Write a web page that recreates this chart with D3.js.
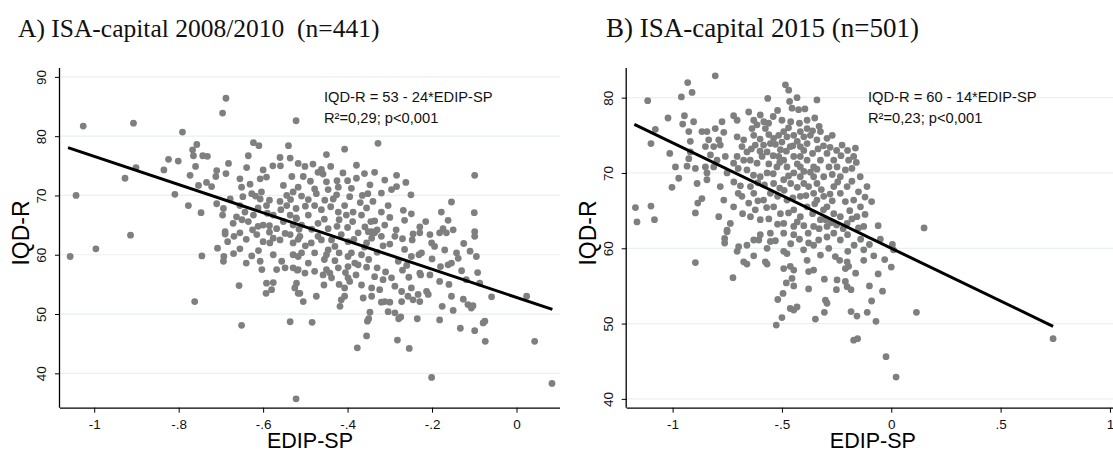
<!DOCTYPE html>
<html>
<head>
<meta charset="utf-8">
<script src="https://cdn.jsdelivr.net/npm/d3@7"></script>
<style>
  body { margin: 0; background: #fff; }
  text { font-family: "Liberation Sans", Arial, sans-serif; }
</style>
</head>
<body>
<svg id="chart" width="1113" height="452"></svg>
<script>
// ---- data ----
const pointsA = [
  [-1.026,81.7],[-0.907,82.2],[-0.688,86.4],[-0.696,83.9],[-0.522,82.6],[-0.791,80.7],[-1.043,70.0],[-0.927,72.9],[-0.901,74.7],[-0.809,70.2],
  [-0.777,68.3],[-0.747,67.1],[-0.757,78.6],[-0.767,77.7],[-0.765,76.7],[-0.743,76.7],[-0.732,76.6],[-0.623,78.9],[-0.610,78.4],[-0.635,76.7],
  [-0.540,78.4],[-0.824,76.1],[-0.801,75.8],[-0.835,74.3],[-0.760,74.9],[-0.773,73.4],[-0.710,74.2],[-0.712,73.2],[-0.688,73.7],[-0.682,75.4],
  [-0.639,74.7],[-0.600,74.3],[-0.577,75.0],[-0.559,75.0],[-0.560,76.4],[-0.536,76.3],[-0.734,72.2],[-0.753,71.7],[-0.722,71.5],[-0.655,72.8],
  [-0.651,71.4],[-0.631,71.9],[-0.607,72.8],[-0.592,73.1],[-0.627,70.3],[-0.604,70.6],[-0.532,73.2],[-0.552,71.7],[-0.529,70.6],[-0.710,68.6],
  [-0.694,67.8],[-0.678,69.4],[-0.655,68.3],[-0.643,67.2],[-0.623,66.7],[-0.663,66.4],[-0.635,65.6],[-0.600,65.0],[-0.576,66.7],[-0.592,68.3],
  [-0.544,68.3],[-0.536,66.7],[-0.568,64.4],[-0.529,65.0],[-0.690,63.9],[-0.607,69.4],[-0.544,70.0],[-0.671,65.3],[-0.696,66.7],
  [-1.057,59.7],[-0.996,61.0],[-0.914,63.3],[-0.745,59.8],[-0.708,61.1],[-0.690,63.5],[-0.669,63.1],[-0.684,62.2],[-0.693,59.7],[-0.694,58.9],
  [-0.657,54.8],[-0.762,52.1],[-0.651,48.1],[-0.522,35.7],[-0.536,48.7],[-0.615,63.4],[-0.600,62.2],[-0.584,62.0],[-0.576,62.8],[-0.560,62.5],
  [-0.536,63.4],[-0.529,62.0],[-0.517,62.6],[-0.611,60.7],[-0.627,59.8],[-0.607,58.9],[-0.603,57.5],[-0.576,60.0],[-0.556,58.9],[-0.568,57.5],
  [-0.548,57.8],[-0.529,60.0],[-0.529,57.8],[-0.519,57.4],[-0.592,55.2],[-0.576,55.3],[-0.580,54.1],[-0.593,53.5],[-0.525,54.4],[-0.517,53.5],
  [-0.328,78.8],[-0.407,77.8],[-0.450,76.9],[-0.099,73.4],[-0.517,75.4],[-0.501,74.9],[-0.482,75.3],[-0.462,74.4],[-0.458,73.6],[-0.379,75.1],
  [-0.411,73.8],[-0.379,72.9],[-0.336,73.9],[-0.284,73.4],[-0.347,71.8],[-0.391,71.2],[-0.296,71.0],[-0.284,71.5],[-0.450,72.3],[-0.446,71.0],
  [-0.422,71.4],[-0.426,70.1],[-0.517,71.4],[-0.509,69.9],[-0.493,69.3],[-0.478,68.3],[-0.454,69.2],[-0.434,69.4],[-0.340,69.0],[-0.304,68.3],
  [-0.268,67.5],[-0.249,66.9],[-0.178,67.2],[-0.154,68.9],[-0.162,65.8],[-0.100,67.1],[-0.336,65.7],[-0.387,67.2],[-0.407,68.3],[-0.403,66.7],
  [-0.367,66.7],[-0.422,67.2],[-0.229,64.7],[-0.174,64.4],[-0.150,64.2],[-0.099,63.9],[-0.521,66.1],[-0.493,66.7],[-0.470,65.3],[-0.446,64.4],
  [-0.509,65.0],[-0.359,64.7],[-0.312,65.0],[-0.478,71.1],[-0.474,70.3],[-0.343,63.9],
  [-0.201,39.3],[0.043,45.4],[0.084,38.3],[-0.484,48.6],[-0.377,44.3],[-0.355,46.3],[-0.353,48.8],[-0.350,49.2],[-0.347,50.3],[-0.282,45.6],[-0.254,44.2],
  [-0.279,49.2],[-0.274,49.5],[-0.235,49.2],[-0.182,49.0],[-0.133,47.6],[-0.099,47.2],[-0.075,48.8],[-0.079,48.5],[-0.074,45.4],[-0.176,51.3],
  [-0.150,50.6],[-0.154,53.0],[-0.126,52.5],[-0.115,51.6],[-0.107,51.0],[-0.103,51.4],[-0.059,52.9],[0.024,53.0],[-0.087,55.2],[-0.092,57.0],
  [-0.095,59.7],[-0.099,63.1],[-0.119,55.8],[-0.142,60.3],[-0.138,59.4],[-0.154,58.6],[-0.162,58.3],[-0.182,55.5],[-0.213,53.8],[-0.209,53.3],
  [-0.229,56.9],[-0.227,56.6],[-0.231,60.0],[-0.225,60.3],[-0.249,59.7],[-0.247,62.5],[-0.229,63.7],[-0.201,62.0],[-0.194,61.4],[-0.182,63.7],
  [-0.166,63.7],[-0.280,58.9],[-0.288,63.1],[-0.316,61.5],[-0.336,63.7],[-0.320,63.1],[-0.343,62.8],[-0.355,62.0],
  [-0.249,54.4],[-0.245,52.4],[-0.257,53.0],[-0.233,53.3],[-0.229,52.1],[-0.272,53.8],[-0.272,52.1],[-0.288,54.7],[-0.296,56.1],[-0.316,55.8],
  [-0.324,54.1],[-0.336,56.3],[-0.343,54.4],[-0.343,53.0],[-0.363,52.7],[-0.367,54.9],[-0.312,52.1],[-0.300,52.0],[-0.320,52.0],[-0.304,50.4],
  [-0.288,50.2],[-0.418,51.3],[-0.474,53.0],[-0.505,52.1],[-0.513,53.5],[-0.456,54.9],[-0.442,56.9],[-0.450,57.5],[-0.458,56.6],[-0.438,56.1],
  [-0.407,54.4],[-0.395,55.5],[-0.399,56.1],[-0.407,53.0],[-0.415,52.4],[-0.422,57.8],[-0.399,58.0],[-0.383,58.6],[-0.399,59.7],[-0.367,60.0],
  [-0.375,58.3],[-0.446,60.8],[-0.430,61.4],[-0.450,60.0],[-0.438,62.5],[-0.462,62.5],[-0.486,62.0],[-0.478,60.3],[-0.509,60.3],[-0.493,58.6],
  [-0.517,57.5],[-0.501,56.9],[-0.478,57.2],[-0.517,59.7],[-0.521,55.2],[-0.513,63.1],[-0.470,63.1],[-0.415,63.4],[-0.375,63.7],[-0.351,63.9],
  [-0.399,62.2],[-0.391,60.3],
  [-0.648,69.8],[-0.618,69.9],[-0.585,69.2],[-0.560,69.0],[-0.535,69.3],[-0.522,67.8],[-0.558,67.6],[-0.590,67.0],[-0.612,67.9],[-0.650,65.9],
  [-0.612,64.8],[-0.585,64.9],[-0.552,65.6],[-0.522,66.2],[-0.515,64.3],[-0.548,63.6],[-0.585,63.8],[-0.625,64.2],[-0.655,63.7],[-0.640,62.6],
  [-0.500,68.2],[-0.462,67.6],[-0.440,68.1],[-0.420,65.9],[-0.388,65.6],[-0.370,68.8],[-0.355,67.9],[-0.320,67.2],[-0.300,66.3],[-0.285,64.2],
  [-0.330,64.2],[-0.385,62.6],[-0.360,61.3],[-0.330,60.4],[-0.300,61.8],[-0.270,62.7],[-0.265,60.9],[-0.420,60.3],[-0.455,59.2],[-0.430,59.0],
  [-0.500,61.5],[-0.455,66.0],[-0.485,64.3],[-0.425,64.8],[-0.400,64.6],[-0.345,65.6],[-0.265,65.8],[-0.245,63.5],[-0.215,65.6],[-0.205,63.4],
  [-0.505,73.2],[-0.488,72.4],[-0.470,73.9],[-0.440,74.9],[-0.425,72.5],[-0.400,72.5],[-0.360,73.7],[-0.352,70.3],[-0.320,70.4],[-0.312,72.6],
  [-0.262,72.2],[-0.250,70.1],[-0.395,69.8],[-0.365,70.0],
  [-0.420,55.0],[-0.380,56.6],[-0.355,57.9],[-0.330,57.8],[-0.310,57.1],[-0.270,57.4],[-0.255,56.2],[-0.260,58.2],[-0.350,59.2],[-0.405,57.0],
  [-0.200,59.3],[-0.180,58.0],[-0.170,60.8],[-0.125,61.9],[-0.130,57.3],[-0.110,60.6],[-0.205,56.6],[-0.160,55.0],
  [-0.655,61.0],[-0.640,58.6],[-0.670,60.2]
];

const pointsB = [
  [-0.805,82.9],[-0.931,82.0],[-0.911,80.7],[-0.960,80.1],[-1.114,79.6],[-0.484,81.7],[-0.469,81.0],[-0.565,79.9],[-0.431,80.0],[-0.340,79.7],
  [-0.465,79.5],[-0.454,78.6],[-0.424,78.4],[-1.021,77.3],[-0.946,77.6],[-0.904,76.8],[-0.954,76.5],[-1.079,75.8],[-1.099,73.9],[-1.013,72.6],
  [-0.987,70.8],[-0.972,69.3],[-1.003,68.1],[-1.170,65.4],[-1.099,65.6],[-1.083,63.8],[-1.163,63.5],[-0.934,70.9],[-0.896,70.6],[-0.926,71.9],
  [-0.919,74.2],[-0.926,75.5],[-0.919,72.8],[-0.888,68.6],[-0.843,69.1],[-0.866,66.6],[-0.885,66.0],[-0.896,64.7],[-0.774,76.8],[-0.721,77.6],
  [-0.705,77.0],[-0.866,75.5],[-0.843,75.5],[-0.805,75.9],[-0.835,74.4],[-0.850,73.5],[-0.812,73.5],[-0.789,74.4],[-0.766,75.4],[-0.782,73.7],
  [-0.827,72.4],[-0.797,71.7],[-0.759,72.2],[-0.850,70.8],[-0.812,70.8],[-0.843,70.0],[-0.652,78.1],[-0.629,77.0],[-0.599,77.7],[-0.614,76.4],
  [-0.583,76.8],[-0.637,75.9],
  [-0.705,74.8],[-0.675,74.4],[-0.683,73.5],[-0.629,75.0],[-0.622,73.7],[-0.584,73.7],[-0.660,72.8],[-0.705,72.2],[-0.721,71.3],[-0.675,71.7],
  [-0.645,71.7],[-0.614,71.3],[-0.591,72.2],[-0.568,72.8],[-0.553,73.9],[-0.538,74.6],[-0.515,75.0],[-0.492,75.5],[-0.477,74.8],[-0.446,75.0],
  [-0.416,75.5],[-0.385,75.9],[-0.370,75.0],[-0.340,74.4],[-0.324,75.5],[-0.294,74.6],[-0.385,73.9],[-0.416,73.5],[-0.462,73.5],[-0.507,73.1],
  [-0.515,72.2],
  [-0.225,73.7],[-0.164,73.3],[-0.172,72.2],[-0.195,71.7],[-0.248,70.8],[-0.142,69.5],[-0.111,68.2],[-0.210,70.4],[-0.233,69.5],[-0.385,77.0],
  [-0.576,75.9],[-0.561,76.6],
  [-0.751,70.0],[-0.782,68.2],[-0.766,66.4],[-0.721,65.5],[-0.683,66.9],[-0.736,63.3],[-0.751,62.4],[-0.789,64.2],
  [-0.644,68.2],[-0.629,67.3],[-0.652,66.0],[-0.622,65.1],[-0.644,64.2],[-0.599,63.8],[-0.584,66.4],[-0.553,67.3],[-0.538,65.5],[-0.507,64.6],
  [-0.477,66.4],[-0.446,65.1],[-0.492,63.3],[-0.446,62.9],[-0.416,64.2],[-0.385,65.5],[-0.416,66.9],[-0.378,68.2],[-0.355,67.3],[-0.309,66.9],
  [-0.294,65.5],[-0.263,64.6],[-0.233,64.2],[-0.202,63.3],[-0.324,63.8],[-0.355,62.9],[-0.294,62.9],[-0.233,67.3],[-0.263,68.2],[-0.202,68.2],
  [-0.172,66.4],[-0.141,65.5],[-0.157,64.2],[-0.126,62.9],[-0.538,68.6],[-0.492,69.1],[-0.446,70.0],[-0.477,70.8],[-0.416,70.8],[-0.385,71.7],
  [-0.355,70.8],[-0.324,71.7],[-0.294,72.6],[-0.263,71.7],[-0.416,69.5],[-0.355,69.5],[-0.309,69.5],[-0.568,70.0],[-0.599,69.5],[-0.523,70.8],
  [-0.492,71.7],[-0.446,72.2],[-0.416,72.2],
  [-0.896,58.1],[-0.724,56.1],[-0.762,61.3],[-0.762,60.7],[-0.705,59.6],[-0.698,60.2],[-0.660,60.4],[-0.629,61.1],[-0.606,61.1],[-0.675,58.2],
  [-0.660,57.9],[-0.629,59.0],[-0.576,58.2],[-0.568,57.9],[-0.568,60.0],[-0.553,60.9],[-0.492,59.6],[-0.477,59.3],[-0.492,57.3],[-0.462,57.6],
  [-0.446,57.1],[-0.454,56.0],[-0.480,55.4],[-0.446,55.0],[-0.495,54.0],[-0.519,53.2],[-0.462,52.0],[-0.446,51.8],[-0.431,52.2],[-0.500,50.8],
  [-0.526,49.8],[-0.378,54.6],[-0.378,56.9],[-0.355,57.1],[-0.385,58.4],[-0.306,55.9],[-0.347,50.6],[-0.301,53.1],[-0.294,52.7],[-0.306,51.5],
  [-0.251,54.5],[-0.248,55.8],[-0.210,55.6],[-0.202,54.9],[-0.184,54.5],[-0.236,58.4],[-0.202,58.2],[-0.195,57.6],[-0.210,57.3],[-0.163,56.7],
  [-0.184,51.6],[-0.157,51.0],[-0.172,47.8],[-0.154,48.0],[-0.256,58.9],[-0.286,60.0],[-0.324,59.1],[-0.126,58.4],[-0.126,59.8],[-0.199,59.6],
  [-0.378,60.7],[-0.355,60.4],[-0.401,59.8],[-0.332,61.1],[-0.294,61.5],[-0.233,61.1],[-0.263,62.0],[-0.446,61.8],[-0.492,62.0],[-0.553,62.0],
  [-0.599,61.8],[-0.751,62.2],
  [-0.024,45.6],[0.022,42.9],[0.150,62.7],[0.740,48.0],[0.115,51.5],
  [-0.540,77.5],[-0.500,77.0],[-0.460,76.8],[-0.420,76.6],[-0.395,78.5],[-0.350,77.3],[-0.330,76.2],[-0.520,78.3],
  [-0.600,74.5],[-0.560,75.1],[-0.530,73.8],[-0.500,74.1],[-0.470,76.0],[-0.430,74.2],[-0.400,74.8],[-0.360,75.6],[-0.310,73.6],[-0.270,75.0],[-0.250,73.0],
  [-0.640,73.2],[-0.600,72.9],[-0.540,72.3],[-0.510,71.4],[-0.480,72.9],[-0.450,73.6],[-0.400,73.0],[-0.360,72.6],[-0.335,73.2],[-0.280,73.4],[-0.230,72.3],[-0.200,73.0],
  [-0.700,70.6],[-0.660,70.4],[-0.630,69.7],[-0.560,71.2],[-0.540,69.9],[-0.470,69.6],[-0.430,71.2],[-0.400,70.2],[-0.370,70.1],[-0.340,70.5],[-0.285,70.8],[-0.270,69.8],[-0.180,70.6],[-0.160,71.4],
  [-0.720,68.8],[-0.690,68.3],[-0.610,68.7],[-0.580,68.4],[-0.510,68.0],[-0.460,68.6],[-0.430,68.1],[-0.400,68.6],[-0.340,68.6],[-0.320,67.8],[-0.280,67.2],[-0.245,68.8],[-0.180,68.9],[-0.150,67.5],
  [-0.700,67.3],[-0.610,66.3],[-0.570,65.4],[-0.520,66.9],[-0.490,67.7],[-0.450,66.7],[-0.390,67.0],[-0.350,65.9],[-0.310,65.1],[-0.270,66.3],[-0.210,66.2],[-0.190,65.0],[-0.120,66.8],
  [-0.680,64.6],[-0.560,63.9],[-0.520,63.2],[-0.470,64.7],[-0.430,63.5],[-0.400,63.0],[-0.360,64.6],[-0.340,66.4],[-0.275,63.4],[-0.220,62.6],[-0.180,63.9],[-0.150,62.7],
  [-0.530,61.0],[-0.460,60.6],[-0.420,61.2],[-0.380,62.0],[-0.330,62.6],[-0.300,63.8],[-0.250,63.1],[-0.200,61.8],[-0.170,60.4],[-0.140,61.2],
  [-0.100,60.5],[-0.080,59.0],[-0.050,61.2],[-0.030,58.5],[-0.060,56.6],[-0.100,55.0],[-0.090,53.0],[-0.040,54.3],[-0.110,51.5],[-0.070,50.3],
  [0.010,59.8],[0.000,57.5],[-0.120,64.5],[-0.090,66.2],[-0.060,63.0],[0.005,60.5]
];

const xTicksA = [-1, -0.8, -0.6, -0.4, -0.2, 0];
const xLabelsA = ["-1", "-.8", "-.6", "-.4", "-.2", "0"];
const yTicksA = [40, 50, 60, 70, 80, 90];
const xTicksB = [-1, -0.5, 0, 0.5, 1];
const xLabelsB = ["-1", "-.5", "0", ".5", "1"];
const yTicksB = [40, 50, 60, 70, 80];

// fitted lines: intercept, slope, x range
const fitA = { a: 52.8, b: -23.8, x0: -1.062, x1: 0.085 };
const fitB = { a: 60, b: -14, x0: -1.175, x1: 0.74 };

const titleA = "A) ISA-capital 2008/2010\u00a0\u00a0(n=441)";
const titleB = "B) ISA-capital 2015 (n=501)";
const eqA = ["IQD-R = 53 - 24*EDIP-SP", "R\u00b2=0,29; p<0,001"];
const eqB = ["IQD-R = 60 - 14*EDIP-SP", "R\u00b2=0,23; p<0,001"];

const svg = d3.select("#chart");

function drawPanel(cfg) {
  const x = d3.scaleLinear().domain(cfg.xDomain).range([cfg.left, cfg.right]);
  const y = d3.scaleLinear().domain(cfg.yDomain).range([cfg.bottom, cfg.top]);
  const g = svg.append("g");

  // grid lines
  g.selectAll("line.grid")
    .data(cfg.yTicks)
    .enter().append("line")
      .attr("x1", cfg.left).attr("x2", cfg.right)
      .attr("y1", d => y(d)).attr("y2", d => y(d))
      .attr("stroke", "#e8f0f1")
      .attr("stroke-width", 1.2);

  // points
  g.selectAll("circle")
    .data(cfg.points)
    .enter().append("circle")
      .attr("cx", d => x(d[0]))
      .attr("cy", d => y(d[1]))
      .attr("r", 3.4)
      .attr("fill", "#7f7f7f");

  // regression line
  g.append("line")
    .attr("x1", x(cfg.fit.x0)).attr("y1", y(cfg.fit.a + cfg.fit.b * cfg.fit.x0))
    .attr("x2", x(cfg.fit.x1)).attr("y2", y(cfg.fit.a + cfg.fit.b * cfg.fit.x1))
    .attr("stroke", "#000")
    .attr("stroke-width", 3);

  // axes
  const xAxis = d3.axisBottom(x)
    .tickValues(cfg.xTicks)
    .tickFormat((d, i) => cfg.xLabels[i])
    .tickSize(5).tickPadding(7);
  const gx = g.append("g")
    .attr("transform", `translate(0,${cfg.bottom})`)
    .call(xAxis);
  gx.select(".domain").attr("d", `M${cfg.left},0.5H${cfg.right}`).attr("stroke-width", 1.3);
  gx.selectAll("text").attr("font-size", 13.5).attr("fill", "#111")
    .style("font-family", "'Liberation Sans', Arial, sans-serif");

  const yAxis = d3.axisLeft(y).tickValues(cfg.yTicks).tickSize(5).tickPadding(4);
  const gy = g.append("g")
    .attr("transform", `translate(${cfg.left},0)`)
    .call(yAxis);
  gy.select(".domain").attr("d", `M-0.5,${cfg.top}V${cfg.bottom}`).attr("stroke-width", 1.3);
  gy.selectAll(".tick text")
    .attr("font-size", 13.5).attr("fill", "#111")
    .attr("x", null).attr("dy", null)
    .attr("text-anchor", "middle")
    .attr("transform", "translate(-14,0) rotate(-90)")
    .style("font-family", "'Liberation Sans', Arial, sans-serif");

  // axis titles
  g.append("text")
    .attr("x", (cfg.left + cfg.right) / 2 + cfg.xTitleShift)
    .attr("y", 448)
    .attr("text-anchor", "middle")
    .attr("font-size", 21.5)
    .text("EDIP-SP");
  g.append("text")
    .attr("transform", `translate(${cfg.left - 31},${cfg.yTitleY}) rotate(-90)`)
    .attr("text-anchor", "middle")
    .attr("font-size", 23)
    .text("IQD-R");

  // equation
  cfg.eq.forEach((t, i) => {
    g.append("text")
      .attr("x", cfg.eqX)
      .attr("y", cfg.eqY + i * 21.5)
      .attr("font-size", 14.7)
      .attr("fill", "#111")
      .text(t);
  });

  // panel title
  svg.append("text")
    .attr("x", cfg.titleX)
    .attr("y", 37)
    .style("font-family", "'Liberation Serif', 'Times New Roman', serif")
    .attr("font-size", cfg.titleSize)
    .attr("fill", "#111")
    .text(cfg.title);
}

drawPanel({
  points: pointsA, fit: fitA, xTicks: xTicksA, xLabels: xLabelsA, yTicks: yTicksA,
  xDomain: [-1.081, 0.103], yDomain: [34.2, 91.5],
  left: 60, right: 560, top: 68, bottom: 407.7,
  xTitleShift: 0, yTitleY: 233,
  eq: eqA, eqX: 324, eqY: 101.7,
  title: titleA, titleX: 18, titleSize: 25.5
});

drawPanel({
  points: pointsB, fit: fitB, xTicks: xTicksB, xLabels: xLabelsB, yTicks: yTicksB,
  xDomain: [-1.21, 1.014], yDomain: [38.83, 83.94],
  left: 626.7, right: 1113, top: 68, bottom: 407.7,
  xTitleShift: 3, yTitleY: 233,
  eq: eqB, eqX: 868, eqY: 101.7,
  title: titleB, titleX: 606, titleSize: 27
});
</script>
</body>
</html>
